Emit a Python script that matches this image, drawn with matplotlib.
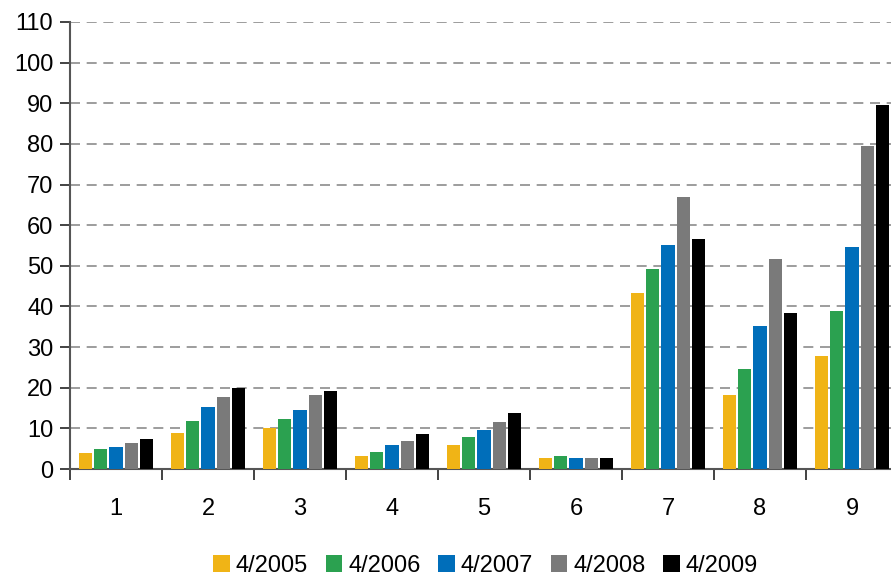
import numpy as np
from matplotlib import pyplot as plt

categories = ['1', '2', '3', '4', '5', '6', '7', '8', '9']
series_names = ['4/2005', '4/2006', '4/2007', '4/2008', '4/2009']
colors = ['#F0B416', '#2BA150', '#006EBA', '#7A7A7A', '#000000']

v2005 = [4.0, 8.8, 10.0, 3.1, 6.0, 2.6, 43.2, 18.3, 27.7]
v2006 = [4.8, 11.7, 12.2, 4.3, 7.8, 3.1, 49.1, 24.7, 38.8]
v2007 = [5.5, 15.2, 14.5, 6.0, 9.5, 2.6, 55.1, 35.3, 54.6]
v2008 = [6.3, 17.7, 18.2, 7.0, 11.5, 2.6, 66.9, 51.6, 79.6]
v2009 = [7.3, 19.9, 19.2, 8.5, 13.7, 2.6, 56.5, 38.3, 89.6]
series = [v2005, v2006, v2007, v2008, v2009]

plt.rcParams['font.family'] = ['Liberation Sans', 'DejaVu Sans']

fig = plt.figure(figsize=(8.91, 5.76), dpi=100)
ax = fig.add_axes([70/891, 1-469/576, 828/891, 447/576])

x = np.arange(len(categories))
step = 0.165
width = 0.142
for i, vals in enumerate(series):
	ax.bar(x + (i-2)*step, vals, width, color=colors[i], label=series_names[i], zorder=3)

ax.set_xlim(-0.5, len(categories)-0.5)
ax.set_ylim(0, 110)
ax.set_yticks(np.arange(0, 111, 10))
for yv in range(10, 111, 10):
	ax.axhline(yv, color='#8C8C8C', lw=1.2, ls=(0, (6, 4)), zorder=1)

ax.set_xticks(x)
ax.set_xticklabels(categories)
ax.set_xticks(np.arange(-0.5, len(categories), 1), minor=True)
ax.tick_params(axis='x', which='major', length=0, pad=21, labelsize=17)
ax.tick_params(axis='x', which='minor', length=8, width=1.2, color='#222222', direction='out')
ax.tick_params(axis='y', length=7, width=1.2, color='#222222', labelsize=17, pad=5)

for s in ['top', 'right']:
	ax.spines[s].set_visible(False)
ax.spines['left'].set_color('#555555')
ax.spines['left'].set_linewidth(1.5)
ax.spines['bottom'].set_color('#555555')
ax.spines['bottom'].set_linewidth(1.5)

fig.legend(loc='center', bbox_to_anchor=(0.545, 1-566/576), ncol=5, frameon=False,
	fontsize=17, handlelength=0.7, handleheight=0.7, handletextpad=0.25, columnspacing=0.75)

plt.savefig('out.png', dpi=100)
